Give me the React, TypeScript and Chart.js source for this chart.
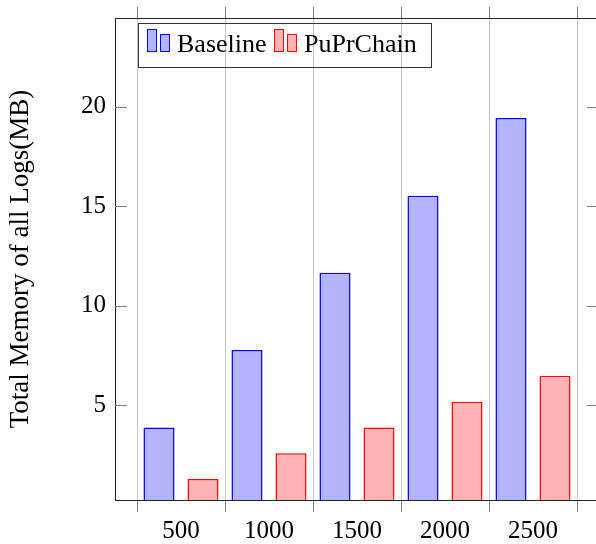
import React, { useEffect, useRef } from "react";
import { Chart, registerables } from "chart.js";

Chart.register(...registerables);

// ---- data ----
const categories = ["500", "1000", "1500", "2000", "2500"];
const seriesNames = ["Baseline", "PuPrChain"];
const baselineValues = [3.86, 7.76, 11.65, 15.52, 19.43];
const puPrChainValues = [1.28, 2.57, 3.86, 5.16, 6.47];
const yTickValues = [5, 10, 15, 20];
const yTitle = "Total Memory of all Logs(MB)";

const FONT = '"Liberation Serif", "Times New Roman", serif';

const isBoundary = (v: number) => Math.abs(v - Math.floor(v) - 0.5) < 1e-6;

const boundaryTicks = (scale: any) => {
  const t: any[] = [];
  for (let i = 0; i <= categories.length * 2; i++) t.push({ value: 0.5 + i * 0.5 });
  scale.ticks = t;
};

const decorPlugin = {
  id: "decor",
  afterDatasetsDraw(chart: any) {
    const { ctx, chartArea: a, scales } = chart;
    const y = scales.y;
    ctx.save();
    // inward y tick marks on both sides
    ctx.strokeStyle = "#808080";
    ctx.lineWidth = 1;
    yTickValues.forEach((v) => {
      const py = Math.round(y.getPixelForValue(v)) + 0.5;
      ctx.beginPath();
      ctx.moveTo(a.left, py);
      ctx.lineTo(a.left + 12, py);
      ctx.moveTo(a.right - 12, py);
      ctx.lineTo(a.right, py);
      ctx.stroke();
    });

    // legend (pgfplots style)
    const lx = a.left + 23.5;
    const ly = a.top + 5.5;
    const baseY = ly + 28;
    ctx.font = `26px ${FONT}`;
    ctx.textBaseline = "alphabetic";
    ctx.textAlign = "left";
    let cx = lx + 9;
    let lastEnd = cx;
    chart.data.datasets.forEach((ds: any) => {
      ctx.fillStyle = ds.backgroundColor;
      ctx.strokeStyle = ds.borderColor;
      ctx.lineWidth = 1;
      ctx.fillRect(cx, baseY - 22, 9, 22);
      ctx.strokeRect(cx, baseY - 22, 9, 22);
      ctx.fillRect(cx + 13, baseY - 17, 9, 17);
      ctx.strokeRect(cx + 13, baseY - 17, 9, 17);
      const tx = cx + 29.5;
      ctx.fillStyle = "#000";
      ctx.fillText(ds.label, tx, baseY);
      const w = ctx.measureText(ds.label).width;
      lastEnd = tx + w;
      cx = Math.round(lastEnd + 7) + 0.5;
    });
    ctx.strokeStyle = "#333";
    ctx.lineWidth = 1;
    ctx.strokeRect(lx, ly, Math.round(lastEnd + 15 - lx), 44);
    ctx.restore();
  },
};

export default function App() {
  const ref = useRef<HTMLCanvasElement>(null);

  useEffect(() => {
    const chart = new Chart(ref.current!, {
      type: "bar",
      data: {
        datasets: [
          {
            label: seriesNames[0],
            data: baselineValues.map((v, i) => ({ x: i + 1, y: v })),
            backgroundColor: "#b3b3ff",
            borderColor: "#0000ff",
            borderWidth: 1.5,
            categoryPercentage: 2.0,
            barPercentage: 0.706,
          },
          {
            label: seriesNames[1],
            data: puPrChainValues.map((v, i) => ({ x: i + 1, y: v })),
            backgroundColor: "#ffb3b3",
            borderColor: "#ff0000",
            borderWidth: 1.5,
            categoryPercentage: 2.0,
            barPercentage: 0.706,
          },
        ] as any,
      },
      options: {
        responsive: false,
        animation: false,
        devicePixelRatio: 1,
        events: [],
        layout: { padding: { left: 0, right: 11, top: 0, bottom: 0 } },
        plugins: {
          legend: { display: false },
          tooltip: { enabled: false },
        },
        scales: {
          x: {
            type: "linear",
            position: "bottom",
            offset: false,
            min: 0.25,
            max: categories.length + 0.75,
            afterBuildTicks: boundaryTicks,
            afterFit: (s: any) => {
              s.height = 44;
              s.paddingLeft = 0;
              s.paddingRight = 0;
            },
            ticks: {
              autoSkip: false,
              maxRotation: 0,
              minRotation: 0,
              padding: 4,
              color: "#000",
              font: { family: FONT, size: 25 },
              callback: (v: any) => (Number.isInteger(v) ? categories[v - 1] : ""),
            },
            grid: {
              offset: false,
              color: (c: any) => (c.tick && isBoundary(c.tick.value) ? "#c4c4c4" : "rgba(0,0,0,0)"),
              tickColor: (c: any) => (c.tick && isBoundary(c.tick.value) ? "#808080" : "rgba(0,0,0,0)"),
              tickLength: 12,
              lineWidth: 1,
            },
            border: { display: true, color: "#222", width: 1 },
          },
          x2: {
            type: "linear",
            position: "top",
            offset: false,
            min: 0.25,
            max: categories.length + 0.75,
            afterBuildTicks: boundaryTicks,
            afterFit: (s: any) => {
              s.height = 18;
              s.paddingLeft = 0;
              s.paddingRight = 0;
            },
            ticks: { display: false },
            grid: {
              offset: false,
              drawOnChartArea: false,
              color: "rgba(0,0,0,0)",
              tickColor: (c: any) => (c.tick && isBoundary(c.tick.value) ? "#808080" : "rgba(0,0,0,0)"),
              tickLength: 11,
            },
            border: { display: true, color: "#222", width: 1 },
          },
          y: {
            type: "linear",
            position: "left",
            min: 0.22,
            max: 24.46,
            afterBuildTicks: (s: any) => {
              s.ticks = yTickValues.map((v) => ({ value: v }));
            },
            afterFit: (s: any) => {
              s.width = 115;
              s.paddingTop = 0;
              s.paddingBottom = 0;
            },
            ticks: {
              padding: 9,
              color: "#000",
              font: { family: FONT, size: 25 },
            },
            grid: { display: false, drawTicks: false },
            border: { display: true, color: "#222", width: 1 },
            title: {
              display: true,
              text: yTitle,
              color: "#000",
              font: { family: FONT, size: 27 },
              padding: { top: 5, bottom: 0 },
            },
          },
        },
      } as any,
      plugins: [decorPlugin],
    });
    return () => chart.destroy();
  }, []);

  return (
    <div
      style={{
        position: "fixed",
        left: 0,
        top: 0,
        width: 596,
        height: 544,
        overflow: "hidden",
        background: "#fff",
      }}
    >
      <canvas ref={ref} width={610} height={544} style={{ display: "block", width: 610, height: 544 }} />
    </div>
  );
}
